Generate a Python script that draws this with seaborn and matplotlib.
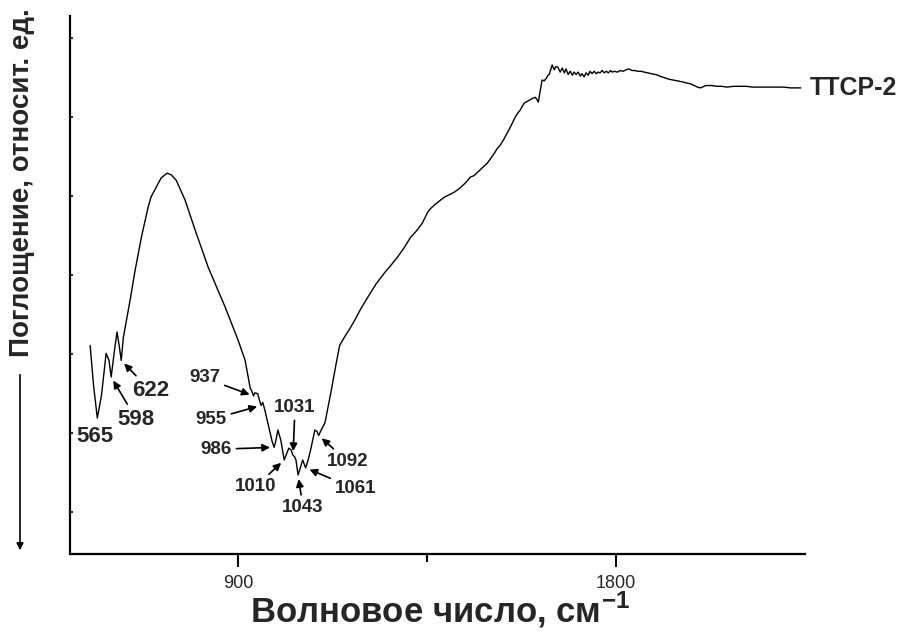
import numpy as np
import pandas as pd
import matplotlib
matplotlib.use("Agg")
import matplotlib.pyplot as plt
from matplotlib.ticker import FixedLocator
import seaborn as sns

# IR spectrum of TTCP-2: wavenumber (cm^-1) and relative absorption
wavenumber = [
    548, 556, 565, 575, 586, 593, 598, 606, 612, 617, 622, 627, 643, 655, 670,
    686, 693, 705, 717, 731, 741, 753, 774, 798, 829, 869, 900, 917, 929, 933,
    937, 940, 947, 952, 955, 959, 964, 971, 981, 986, 990, 995, 1002, 1010,
    1016, 1021, 1026, 1031, 1035, 1038, 1043, 1049, 1054, 1061, 1067, 1073,
    1083, 1088, 1092, 1099, 1107, 1121, 1133, 1142, 1154, 1166, 1178, 1193,
    1209, 1229, 1249, 1265, 1280, 1296, 1311, 1325, 1339, 1351, 1358, 1368,
    1380, 1392, 1404, 1415, 1423, 1430, 1442, 1453, 1462, 1470, 1482, 1494,
    1502, 1510, 1517, 1525, 1533, 1541, 1550, 1560, 1566, 1572, 1577, 1582,
    1589, 1596, 1602, 1608, 1612, 1615, 1620, 1624, 1629, 1634, 1638, 1641,
    1645, 1648, 1653, 1657, 1662, 1667, 1672, 1677, 1681, 1686, 1691, 1696,
    1700, 1705, 1710, 1715, 1719, 1724, 1729, 1734, 1738, 1743, 1748, 1753,
    1758, 1762, 1767, 1772, 1777, 1782, 1787, 1791, 1796, 1803, 1810, 1817,
    1824, 1831, 1838, 1845, 1852, 1860, 1867, 1876, 1885, 1893, 1900, 1908,
    1915, 1926, 1935, 1945, 1955, 1962, 1970, 1978, 1986, 1994, 2002, 2009,
    2016, 2028, 2040, 2052, 2064, 2080, 2095, 2110, 2125, 2140, 2155, 2170,
    2185, 2200, 2215, 2228, 2240,
]
absorption = [
    3.11, 2.61, 2.19, 2.48, 3.01, 2.92, 2.71, 3.05, 3.28, 3.11, 2.92, 3.21, 3.68, 4.06, 4.48,
    4.86, 4.99, 5.11, 5.23, 5.29, 5.27, 5.20, 4.95, 4.57, 4.10, 3.60, 3.18, 2.92, 2.57, 2.53,
    2.47, 2.51, 2.50, 2.40, 2.35, 2.39, 2.29, 2.13, 1.90, 1.82, 1.90, 2.04, 1.91, 1.66,
    1.74, 1.81, 1.79, 1.72, 1.70, 1.66, 1.47, 1.57, 1.66, 1.56, 1.66, 1.79,
    2.04, 2.02, 1.97, 2.05, 2.13, 2.51, 2.86, 3.11, 3.22, 3.32, 3.43, 3.58,
    3.72, 3.89, 4.03, 4.13, 4.23, 4.35, 4.48, 4.56, 4.66, 4.79, 4.84, 4.89,
    4.94, 4.99, 5.02, 5.05, 5.08, 5.11, 5.17, 5.24, 5.26, 5.30, 5.36, 5.42,
    5.48, 5.54, 5.60, 5.65, 5.72, 5.80, 5.89, 6.00, 6.05, 6.09, 6.14, 6.18,
    6.20, 6.22, 6.24, 6.25, 6.22, 6.19, 6.35, 6.47, 6.46, 6.49, 6.53, 6.54,
    6.61, 6.66, 6.60, 6.64, 6.63, 6.57, 6.62, 6.56, 6.61, 6.54, 6.58, 6.53,
    6.57, 6.54, 6.57, 6.52, 6.55, 6.51, 6.56, 6.53, 6.58, 6.55, 6.58, 6.55,
    6.57, 6.56, 6.59, 6.56, 6.58, 6.56, 6.59, 6.57, 6.58, 6.57, 6.59, 6.58,
    6.60, 6.61, 6.59, 6.59, 6.58, 6.58, 6.57, 6.56, 6.55, 6.54, 6.53, 6.51,
    6.50, 6.48, 6.47, 6.46, 6.45, 6.44, 6.43, 6.42, 6.40, 6.38, 6.37, 6.39,
    6.40, 6.40, 6.39, 6.39, 6.38, 6.39, 6.39, 6.39, 6.38, 6.38, 6.38, 6.38,
    6.38, 6.38, 6.37, 6.37, 6.37,
]

# Band labels and where their text sits relative to the band (pixels)
band_labels = [565, 598, 622, 937, 955, 986, 1010, 1031, 1043, 1061, 1092]
label_offsets = [(-2, -18), (25, -42), (29, -30), (-49, 18), (-50, -14),
                 (-58, -2), (-29, -27), (2, 48), (5, -33), (50, -21), (29, -26)]
label_sizes = [16, 16, 16, 13.5, 13.5, 13.5, 13.5, 13.5, 13.5, 13.5, 13.5]
arrowed = [False] + [True] * 10

sample_name = "TTCP-2"
xtick_major = [900, 1800]
xtick_minor = [1350]
ytick_marks = [1, 2, 3, 4, 5, 6, 7]

sns.set_style("ticks")
plt.rcParams["font.family"] = ["Liberation Sans", "DejaVu Sans"]
plt.rcParams["mathtext.fontset"] = "custom"
plt.rcParams["mathtext.rm"] = "Liberation Sans"
plt.rcParams["mathtext.bf"] = "Liberation Sans:bold"

df = pd.DataFrame({"wn": wavenumber, "a": absorption})

fig = plt.figure(figsize=(9.02, 6.39), dpi=100)
ax = fig.add_axes([70 / 902, 1 - 554 / 639, (805 - 70) / 902, (554 - 16) / 639])

sns.lineplot(data=df, x="wn", y="a", ax=ax, color="black", lw=1.0,
             estimator=None, sort=False)

ax.set_xlim(500, 2250)
ax.set_ylim(0.47, 7.28)

for side in ("top", "right"):
    ax.spines[side].set_visible(False)
for side in ("left", "bottom"):
    ax.spines[side].set_linewidth(1.6)
    ax.spines[side].set_color("black")

ax.xaxis.set_major_locator(FixedLocator(xtick_major))
ax.xaxis.set_minor_locator(FixedLocator(xtick_minor))
ax.tick_params(axis="x", which="major", direction="out", length=9, width=1.5,
               labelsize=13, pad=6, color="black")
ax.tick_params(axis="x", which="minor", direction="out", length=6, width=1.5,
               color="black")
ax.yaxis.set_major_locator(FixedLocator(ytick_marks))
ax.tick_params(axis="y", which="major", direction="in", length=2, width=1.2,
               labelleft=False, color="black")
ax.set_xlabel("")
ax.set_ylabel("")

# Band annotations
wn_arr = np.array(wavenumber, dtype=float)
a_arr = np.array(absorption, dtype=float)
for band, off, size, arr in zip(band_labels, label_offsets, label_sizes, arrowed):
    y_band = np.interp(band, wn_arr, a_arr)
    props = None
    if arr:
        props = dict(arrowstyle="-|>", color="black", lw=1.2,
                     mutation_scale=11, shrinkA=1, shrinkB=3)
    ax.annotate(str(band), xy=(band, y_band), xytext=off,
                textcoords="offset pixels", ha="center", va="center",
                fontsize=size, fontweight="bold", arrowprops=props)

# Sample name at the end of the trace
ax.annotate(sample_name, xy=(wavenumber[-1], absorption[-1]), xytext=(9, 0),
            textcoords="offset pixels", ha="left", va="center",
            fontsize=18, fontweight="bold", annotation_clip=False)

# Axis titles
fig.text(440 / 902, 1 - 610 / 639, r"Волновое число, см$^{\mathbf{-1}}$",
         ha="center", va="center", fontsize=25, fontweight="bold")
fig.text(22 / 902, 1 - 8 / 639, "Поглощение, относит. ед.", rotation=90,
         ha="center", va="top", fontsize=20, fontweight="bold")
fig.add_artist(matplotlib.patches.FancyArrowPatch(
    (20 / 902, 1 - 372 / 639), (20 / 902, 1 - 553 / 639),
    transform=fig.transFigure, arrowstyle="-|>", mutation_scale=10,
    color="black", lw=1.2))

fig.savefig("out.png", dpi=100)
